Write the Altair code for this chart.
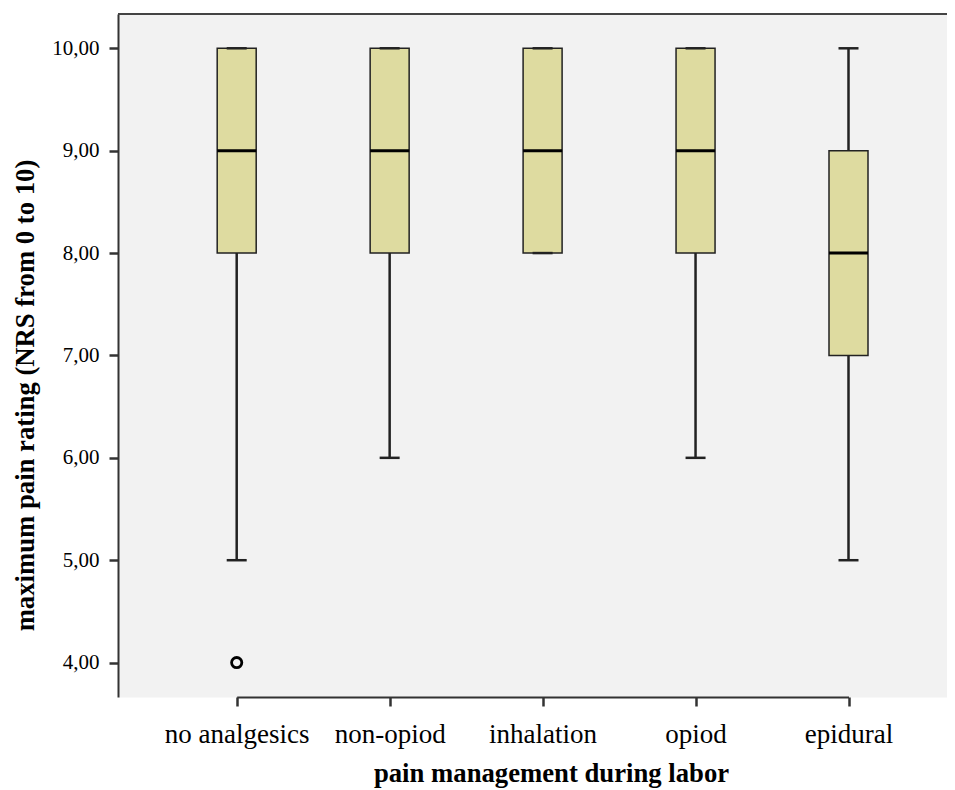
import altair as alt
import pandas as pd

groups = ["no analgesics", "non-opiod", "inhalation", "opiod", "epidural"]
whisker_low = [5, 6, 8, 6, 5]
q1 = [8, 8, 8, 8, 7]
median = [9, 9, 9, 9, 8]
q3 = [10, 10, 10, 10, 9]
whisker_high = [10, 10, 10, 10, 10]
outlier_groups = ["no analgesics"]
outlier_values = [4]
y_ticks = [4, 5, 6, 7, 8, 9, 10]

df = pd.DataFrame({
    "group": groups, "low": whisker_low, "q1": q1, "median": median,
    "q3": q3, "high": whisker_high,
})
out_df = pd.DataFrame({"group": outlier_groups, "value": outlier_values})

W, H = 829, 683
FONT = "Liberation Serif"

xscale = alt.Scale(type="point", domain=groups, range=[118.7, 730.5], padding=0)
yscale = alt.Scale(domain=[3.664, 10.335], nice=False, zero=False)

xaxis = alt.Axis(
    title="pain management during labor", labelAngle=0, labelFontSize=27,
    labelBaseline="alphabetic", labelPadding=36, tickSize=9,
    titleX=433, titleY=84, titleAlign="center", titleBaseline="alphabetic",
)
yaxis = alt.Axis(
    title="maximum pain rating (NRS from 0 to 10)", values=y_ticks,
    labelExpr="replace(format(datum.value, '.2f'), '.', ',')",
    labelFontSize=21, labelPadding=10, tickSize=9,
    titleX=-85, titleY=381, titleAngle=270, titleAlign="center",
    titleBaseline="alphabetic",
)

base = alt.Chart(df)

x_enc = alt.X("group:N", scale=xscale, axis=xaxis, sort=groups)

top_border = base.mark_rule(color="#444444", strokeWidth=2).encode(
    x=alt.value(0), x2=alt.value(W), y=alt.value(0)
)
whiskers = base.mark_rule(color="#222222", strokeWidth=2.5).encode(
    x=x_enc,
    y=alt.Y("low:Q", scale=yscale, axis=yaxis),
    y2="high:Q",
)
boxes = base.mark_bar(size=39, fill="#dedba0", stroke="#222222", strokeWidth=1.5).encode(
    x=x_enc, y=alt.Y("q1:Q", scale=yscale), y2="q3:Q"
)
medians = base.mark_tick(size=39, thickness=3, color="#000000", opacity=1).encode(
    x=x_enc, y=alt.Y("median:Q", scale=yscale)
)
caps_low = base.mark_tick(size=20, thickness=2.5, color="#222222", opacity=1).encode(
    x=x_enc, y=alt.Y("low:Q", scale=yscale)
)
caps_high = base.mark_tick(size=20, thickness=2.5, color="#222222", opacity=1).encode(
    x=x_enc, y=alt.Y("high:Q", scale=yscale)
)
outliers = alt.Chart(out_df).mark_point(
    shape="circle", filled=False, size=105, strokeWidth=2.8, color="#000000", opacity=1
).encode(x=alt.X("group:N", scale=xscale, sort=groups), y=alt.Y("value:Q", scale=yscale))

chart = alt.layer(
    whiskers, boxes, medians, caps_low, caps_high, outliers, top_border
).properties(
    width=W, height=H,
    background="#ffffff",
    autosize=alt.AutoSizeParams(type="none"),
    padding={"left": 110, "top": 6, "right": 0, "bottom": 93},
).configure_view(
    fill="#f2f2f2", stroke="transparent"
).configure_axis(
    labelFont=FONT, titleFont=FONT, labelColor="#000000", titleColor="#000000",
    titleFontSize=26.7, titleFontWeight="bold", grid=False,
    domainColor="#333333", domainWidth=2, tickColor="#333333", tickWidth=2.5,
)

chart.save("out.html", embed_options={"renderer": "svg", "actions": False})
